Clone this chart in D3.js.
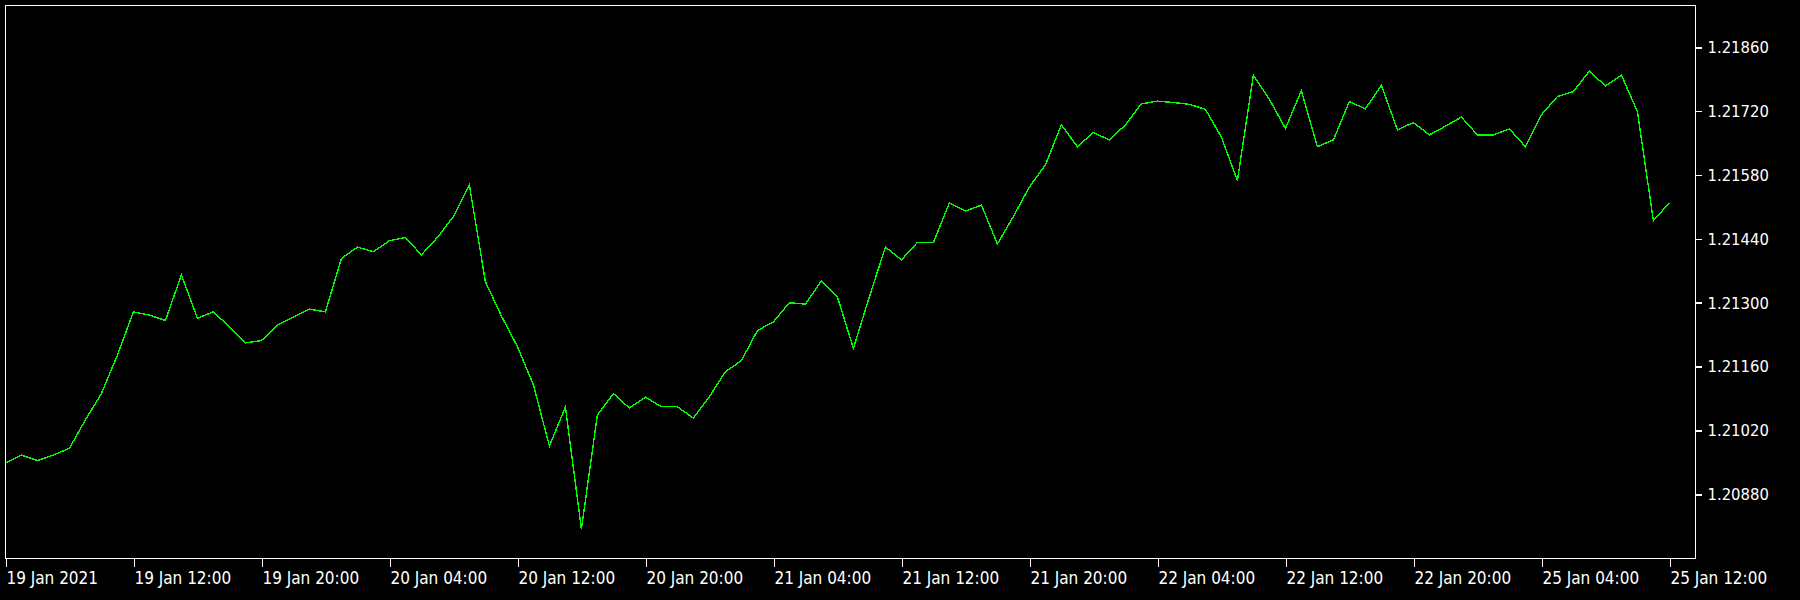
<!DOCTYPE html>
<html>
<head>
<meta charset="utf-8">
<script src="https://cdn.jsdelivr.net/npm/d3@7/dist/d3.min.js"></script>
<style>
  html, body { margin: 0; padding: 0; background: #000; }
  svg { display: block; }
  text { font-family: "DejaVu Sans Condensed", "DejaVu Sans", sans-serif; font-stretch: condensed; fill: #fff; }
</style>
</head>
<body>
<script>
// Trading sessions (hourly bars, weekend skipped)
const sessionDays = ["19 Jan", "20 Jan", "21 Jan", "22 Jan", "25 Jan"];
const sessionFirstHour = [4, 0, 0, 0, 0];
const sessionLastHour = [23, 23, 23, 23, 12];

// EURUSD H1 close prices, 19 Jan 04:00 .. 25 Jan 12:00
const closes = [
  1.20949, 1.20966, 1.20954, 1.20966, 1.20981, 1.21043, 1.21101, 1.21185, 1.21280, 1.21273,
  1.21261, 1.21361, 1.21266, 1.21280, 1.21247, 1.21212, 1.21217, 1.21251, 1.21269, 1.21286,
  1.21280, 1.21397, 1.21422, 1.21412, 1.21436, 1.21443, 1.21405, 1.21443, 1.21489, 1.21558,
  1.21346, 1.21271, 1.21204, 1.21120, 1.20986, 1.21071, 1.20804, 1.21054, 1.21101, 1.21069,
  1.21093, 1.21072, 1.21072, 1.21047, 1.21094, 1.21149, 1.21173, 1.21239, 1.21258, 1.21300,
  1.21297, 1.21348, 1.21313, 1.21200, 1.21313, 1.21422, 1.21394, 1.21432, 1.21432, 1.21519,
  1.21501, 1.21514, 1.21429, 1.21489, 1.21554, 1.21602, 1.21690, 1.21642, 1.21673, 1.21657,
  1.21690, 1.21736, 1.21742, 1.21739, 1.21735, 1.21724, 1.21663, 1.21568, 1.21799, 1.21746,
  1.21682, 1.21765, 1.21642, 1.21657, 1.21741, 1.21725, 1.21777, 1.21679, 1.21695, 1.21668,
  1.21687, 1.21707, 1.21668, 1.21668, 1.21681, 1.21642, 1.21712, 1.21752, 1.21763, 1.21808,
  1.21775, 1.21799, 1.21719, 1.21480, 1.21519
];

// Axis ticks
const yTicks = [1.20880, 1.21020, 1.21160, 1.21300, 1.21440, 1.21580, 1.21720, 1.21860];
const xTickLabels = ["19 Jan 2021", "19 Jan 12:00", "19 Jan 20:00", "20 Jan 04:00", "20 Jan 12:00",
  "20 Jan 20:00", "21 Jan 04:00", "21 Jan 12:00", "21 Jan 20:00", "22 Jan 04:00",
  "22 Jan 12:00", "22 Jan 20:00", "25 Jan 04:00", "25 Jan 12:00"];

// Build bar categories from sessions
const categories = [];
sessionDays.forEach((d, k) => {
  for (let h = sessionFirstHour[k]; h <= sessionLastHour[k]; h++) {
    categories.push(d + " " + String(h).padStart(2, "0") + ":00");
  }
});
const data = categories.map((c, i) => ({ cat: c, i: i, v: closes[i] }));
const tickIndex = xTickLabels.map((lab, k) => {
  if (k === 0) return 0;
  return categories.indexOf(lab);
});

const W = 1800, H = 600;
const frame = { left: 5, top: 5, right: 1695, bottom: 558 };

const svg = d3.select("body").append("svg").attr("width", W).attr("height", H);
svg.append("rect").attr("width", W).attr("height", H).attr("fill", "#000");

const x = d3.scaleLinear().domain([0, categories.length - 1]).range([5.4, 5.4 + 16 * (categories.length - 1)]);
const y = d3.scaleLinear().domain([1.20880, 1.21860]).range([494.3, 47.3]);

// clip
svg.append("clipPath").attr("id", "clip").append("rect")
  .attr("x", frame.left).attr("y", frame.top)
  .attr("width", frame.right - frame.left).attr("height", frame.bottom - frame.top);

// line
const line = d3.line().x(d => x(d.i)).y(d => y(d.v));
svg.append("path").datum(data)
  .attr("clip-path", "url(#clip)")
  .attr("d", line)
  .attr("fill", "none")
  .attr("stroke", "#00ff00")
  .attr("stroke-width", 1.4)
  .attr("shape-rendering", "crispEdges");

// frame
svg.append("rect")
  .attr("x", frame.left + 0.5).attr("y", frame.top + 0.5)
  .attr("width", frame.right - frame.left).attr("height", frame.bottom - frame.top)
  .attr("fill", "none").attr("stroke", "#fff").attr("stroke-width", 1.5)
  .attr("shape-rendering", "crispEdges");

// right axis
const yAxis = d3.axisRight(y).tickValues(yTicks).tickFormat(d3.format(".5f")).tickSize(6).tickPadding(6);
const gy = svg.append("g").attr("transform", `translate(${frame.right + 0.5},0)`).call(yAxis);
gy.select(".domain").remove();
gy.selectAll("line").attr("stroke", "#fff").attr("stroke-width", 1.5).attr("shape-rendering", "crispEdges");
gy.selectAll("text").attr("fill", "#fff").style("font-size", "16.5px");

// bottom axis
const xAxis = d3.axisBottom(x).tickValues(tickIndex)
  .tickFormat((d, k) => xTickLabels[k]).tickSize(8).tickPadding(5);
const gx = svg.append("g").attr("transform", `translate(0.5,${frame.bottom + 0.5})`).call(xAxis);
gx.select(".domain").remove();
gx.selectAll("line").attr("stroke", "#fff").attr("stroke-width", 1.5).attr("shape-rendering", "crispEdges");
gx.selectAll("text").attr("fill", "#fff").style("font-size", "17px")
  .attr("text-anchor", "start").attr("x", 0);
</script>
</body>
</html>
